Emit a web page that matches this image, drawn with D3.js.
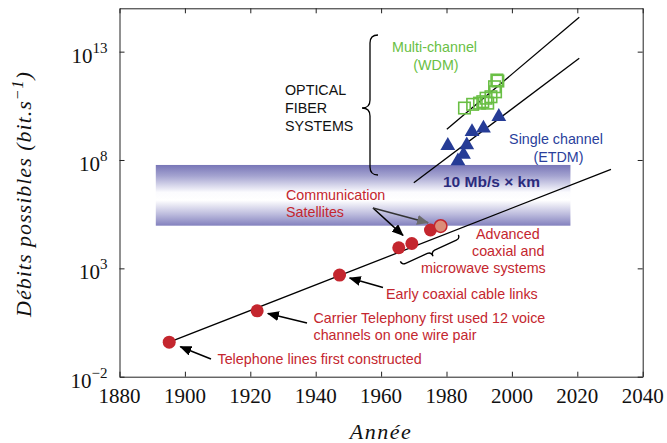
<!DOCTYPE html>
<html>
<head>
<meta charset="utf-8">
<script src="https://cdn.jsdelivr.net/npm/d3@7"></script>
<style>
  html, body { margin: 0; padding: 0; background: #fff; }
  svg { display: block; }
</style>
</head>
<body>
<svg id="chart" width="667" height="443"></svg>
<script>
// ---- data ----
const xTicks = [1880, 1900, 1920, 1940, 1960, 1980, 2000, 2020, 2040];
const yTickExponents = [-2, 3, 8, 13];

// copper / radio milestones (year, bit/s)
const copperYears = [1895.2, 1922.1, 1947.3, 1965.4, 1969.4, 1975.1];
const copperRates = [0.39, 11, 490, 8900, 14000, 59000];
const satelliteYears = [1978.2];
const satelliteRates = [89000];

// optical fiber: multi-channel (WDM)
const wdmYears = [1985.5, 1988.0, 1990.1, 1991.1, 1992.1, 1992.6, 1993.6, 1995.0, 1994.7, 1995.4, 1995.7];
const wdmRates = [2.5e10, 3.7e10, 4.2e10, 4.9e10, 7.1e10, 4.2e10, 8.3e10, 1.4e11, 2.4e11, 4.9e11, 4.4e11];

// optical fiber: single channel (ETDM)
const etdmYears = [1996.0, 1991.3, 1987.8, 1980.4, 1986.2, 1985.2, 1983.5];
const etdmRates = [1.0e10, 2.9e9, 2.0e9, 4.6e8, 4.9e8, 1.8e8, 8.9e7];

// trend lines: [start, end]
const copperTrendYears = [1895.2, 2030.3];
const copperTrendRates = [0.39, 3.7e7];
const wdmTrendYears = [1980.1, 2020.6];
const wdmTrendRates = [2.6e9, 3.9e14];
const etdmTrendYears = [1970.0, 2020.6];
const etdmTrendRates = [8.9e6, 4.9e12];

// 10 Mb/s x km band
const bandYears = [1891.1, 2017.9];
const bandRates = [9.3e4, 5.9e7];

// ---- layout ----
const plotL = 119.5, plotR = 642.7, plotT = 8.3, plotB = 376.7;
const svg = d3.select("#chart");

const x = d3.scaleLinear().domain([1880, 2040]).range([plotL, plotR]);
const y = d3.scaleLog().domain([1e-2, 1e15]).range([plotB, plotT]);

const serif = "'Liberation Serif', 'DejaVu Serif', serif";
const sans = "'Liberation Sans', Arial, sans-serif";
const red = "#c4262e";
const green = "#6abf45";
const blue = "#263c96";

// gradient for the band
const defs = svg.append("defs");
const grad = defs.append("linearGradient").attr("id", "bandGrad")
  .attr("x1", 0).attr("y1", 0).attr("x2", 0).attr("y2", 1);
[[0, "#7876b7"], [0.18, "#a4a3d0"], [0.45, "#fbfbfe"], [0.58, "#ffffff"], [0.8, "#c0bfdf"], [1, "#8381be"]]
  .forEach(([o, c]) => grad.append("stop").attr("offset", o).attr("stop-color", c));

// arrowheads
function head(id, color) {
  defs.append("marker").attr("id", id)
    .attr("viewBox", "0 0 12 10").attr("refX", 11).attr("refY", 5)
    .attr("markerWidth", 12).attr("markerHeight", 10)
    .attr("markerUnits", "userSpaceOnUse").attr("orient", "auto")
    .append("path").attr("d", "M0,0 L12,5 L0,10 Z").attr("fill", color);
}
head("hBlack", "#000");
head("hGray", "#6b6b6b");

// band
svg.append("rect")
  .attr("x", x(bandYears[0])).attr("y", y(bandRates[1]))
  .attr("width", x(bandYears[1]) - x(bandYears[0]))
  .attr("height", y(bandRates[0]) - y(bandRates[1]))
  .attr("fill", "url(#bandGrad)");

svg.append("text")
  .attr("x", 443).attr("y", 187)
  .attr("font-family", sans).attr("font-weight", "bold").attr("font-size", 15.5)
  .attr("fill", "#2b2b7d")
  .text("10 Mb/s × km");

// axes frame
const xAxisB = d3.axisBottom(x).tickValues(xTicks).tickSizeInner(-5).tickSizeOuter(0).tickFormat("");
const xAxisT = d3.axisTop(x).tickValues(xTicks).tickSizeInner(-5).tickSizeOuter(0).tickFormat("");
const yVals = yTickExponents.map(e => Math.pow(10, e));
const yAxisL = d3.axisLeft(y).tickValues(yVals).tickSizeInner(-5).tickSizeOuter(0).tickFormat("");
const yAxisR = d3.axisRight(y).tickValues(yVals).tickSizeInner(-5).tickSizeOuter(0).tickFormat("");

function styleAxis(g) {
  g.selectAll("path.domain").attr("stroke", "#222").attr("stroke-width", 1);
  g.selectAll(".tick line").attr("stroke", "#222").attr("stroke-width", 1);
}
svg.append("g").attr("transform", `translate(0,${plotB})`).call(xAxisB).call(styleAxis);
svg.append("g").attr("transform", `translate(0,${plotT})`).call(xAxisT).call(styleAxis);
svg.append("g").attr("transform", `translate(${plotL},0)`).call(yAxisL).call(styleAxis);
svg.append("g").attr("transform", `translate(${plotR},0)`).call(yAxisR).call(styleAxis);

// x tick labels
svg.append("g").selectAll("text").data(xTicks).join("text")
  .attr("x", d => x(d)).attr("y", plotB + 26.5)
  .attr("text-anchor", "middle")
  .attr("font-family", serif).attr("font-size", 21)
  .attr("fill", "#111")
  .text(d => d);

// y tick labels: 10^e
const yl = svg.append("g").selectAll("text").data(yTickExponents).join("text")
  .attr("x", 107.5).attr("y", e => y(Math.pow(10, e)) + 11)
  .attr("text-anchor", "end")
  .attr("font-family", serif).attr("fill", "#111");
yl.append("tspan").attr("font-size", 21).text("10");
yl.append("tspan").attr("font-size", 15).attr("dy", -10)
  .text(e => (e < 0 ? "\u2212" + (-e) : String(e)));

// axis titles
svg.append("text")
  .attr("x", (plotL + plotR) / 2).attr("y", 439)
  .attr("text-anchor", "middle")
  .attr("font-family", serif).attr("font-style", "italic").attr("font-size", 22)
  .attr("letter-spacing", 1.5)
  .attr("fill", "#111")
  .text("Année");

const yt = svg.append("text")
  .attr("transform", "translate(31,194) rotate(-90)")
  .attr("text-anchor", "middle")
  .attr("font-family", serif).attr("font-style", "italic").attr("font-size", 22)
  .attr("letter-spacing", 1)
  .attr("fill", "#111");
yt.append("tspan").text("Débits possibles (bit.s");
yt.append("tspan").attr("font-size", 16).attr("dy", -8).text("\u22121");
yt.append("tspan").attr("dy", 8).text(")");

// trend lines
const line = d3.line().x(d => x(d[0])).y(d => y(d[1]));
[[copperTrendYears, copperTrendRates], [wdmTrendYears, wdmTrendRates], [etdmTrendYears, etdmTrendRates]]
  .forEach(([ys, rs]) => {
    svg.append("path").datum(ys.map((v, i) => [v, rs[i]]))
      .attr("d", line).attr("fill", "none").attr("stroke", "#000").attr("stroke-width", 1.3);
  });

// WDM squares
const sq = 11.5;
svg.append("g").selectAll("rect").data(wdmYears.map((v, i) => [v, wdmRates[i]])).join("rect")
  .attr("x", d => x(d[0]) - sq / 2).attr("y", d => y(d[1]) - sq / 2)
  .attr("width", sq).attr("height", sq)
  .attr("fill", "none").attr("stroke", green).attr("stroke-width", 1.6);

// ETDM triangles
const tri = d3.symbol().type(d3.symbolTriangle).size(95);
svg.append("g").selectAll("path").data(etdmYears.map((v, i) => [v, etdmRates[i]])).join("path")
  .attr("transform", d => `translate(${x(d[0])},${y(d[1])})`)
  .attr("d", tri).attr("fill", blue);

// copper points
const copper = copperYears.map((v, i) => [v, copperRates[i]]);
svg.append("g").selectAll("circle").data(copper).join("circle")
  .attr("cx", d => x(d[0])).attr("cy", d => y(d[1])).attr("r", 6.5)
  .attr("fill", red);
const sats = satelliteYears.map((v, i) => [v, satelliteRates[i]]);
svg.append("g").selectAll("circle").data(sats).join("circle")
  .attr("cx", d => x(d[0])).attr("cy", d => y(d[1])).attr("r", 6.3)
  .attr("fill", "#dc8d78").attr("stroke", red).attr("stroke-width", 1.5);

// arrows pointing at a point, stopping short of it
function arrowTo(tx, ty, px, py, gap, marker, color) {
  const dx = tx - px, dy = ty - py, L = Math.hypot(dx, dy);
  const ex = px + dx / L * gap, ey = py + dy / L * gap;
  svg.append("line").attr("x1", tx).attr("y1", ty).attr("x2", ex).attr("y2", ey)
    .attr("stroke", color).attr("stroke-width", 1.5)
    .attr("marker-end", `url(#${marker})`);
}
const P = copper.map(d => [x(d[0]), y(d[1])]);
const S = sats.map(d => [x(d[0]), y(d[1])]);
arrowTo(211, 359, P[0][0], P[0][1], 12, "hBlack", "#000");
arrowTo(307, 323, P[1][0], P[1][1], 11, "hBlack", "#000");
arrowTo(383, 287.5, P[2][0], P[2][1], 10.5, "hBlack", "#000");
arrowTo(373, 208, P[4][0], P[4][1], 12, "hBlack", "#000");
arrowTo(373, 208, S[0][0], S[0][1], 13, "hGray", "#333");

// braces
svg.append("path")
  .attr("d", "M378,35 Q370,35 370,43 L370,100 Q370,108 362,108 Q370,108 370,116 L370,167 Q370,175 378,175")
  .attr("fill", "none").attr("stroke", "#000").attr("stroke-width", 1.3);

const bx0 = 402, by0 = 265, bx1 = 460, by1 = 238.5;
const bL = Math.hypot(bx1 - bx0, by1 - by0);
const bAng = Math.atan2(by1 - by0, bx1 - bx0) * 180 / Math.PI;
svg.append("path")
  .attr("transform", `translate(${bx0},${by0}) rotate(${bAng})`)
  .attr("d", `M0,-4 Q0,0 4,0 L${bL / 2 - 4},0 Q${bL / 2},0 ${bL / 2},5 Q${bL / 2},0 ${bL / 2 + 4},0 L${bL - 4},0 Q${bL},0 ${bL},-4`)
  .attr("fill", "none").attr("stroke", "#000").attr("stroke-width", 1.3);

// annotation text
function label(lines, color, anchor) {
  lines.forEach(([t, tx, ty]) => {
    svg.append("text").attr("x", tx).attr("y", ty)
      .attr("text-anchor", anchor || "start")
      .attr("font-family", sans).attr("font-size", 14.3).attr("fill", color)
      .text(t);
  });
}
label([["Multi-channel", 434.5, 51.5], ["(WDM)", 436, 69.5]], green, "middle");
label([["Single channel", 556, 144], ["(ETDM)", 558.5, 161.5]], "#2b3f9c", "middle");
label([["OPTICAL", 285, 95], ["FIBER", 285, 113], ["SYSTEMS", 285, 130.5]], "#111");
label([["Communication", 286, 200], ["Satellites", 286, 217]], red);
label([["Advanced", 476, 238.5], ["coaxial and", 472, 255.5], ["microwave systems", 421, 273]], red);
label([["Early coaxial cable links", 386, 299]], red);
label([["Carrier Telephony first used 12 voice", 313.5, 323], ["channels on one wire pair", 313.5, 340]], red);
label([["Telephone lines first constructed", 217.5, 364]], red);
</script>
</body>
</html>
